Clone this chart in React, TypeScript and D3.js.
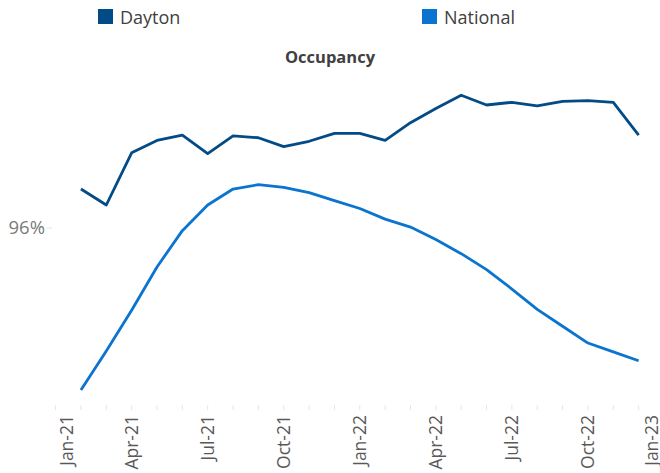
import React from "react";
import * as d3 from "d3";

const months: string[] = [
  "Feb-21","Mar-21","Apr-21","May-21","Jun-21","Jul-21","Aug-21","Sep-21","Oct-21","Nov-21","Dec-21",
  "Jan-22","Feb-22","Mar-22","Apr-22","May-22","Jun-22","Jul-22","Aug-22","Sep-22","Oct-22","Nov-22","Dec-22",
];
const dayton: number[] = [
  96.44, 96.26, 96.85, 96.99, 97.05, 96.84, 97.04, 97.02, 96.92, 96.98, 97.07,
  97.07, 96.99, 97.19, 97.35, 97.5, 97.39, 97.42, 97.38, 97.43, 97.44, 97.42, 97.05,
];
const national: number[] = [
  94.17, 94.61, 95.07, 95.56, 95.97, 96.26, 96.44, 96.49, 96.46, 96.4, 96.31,
  96.22, 96.1, 96.01, 95.87, 95.71, 95.53, 95.31, 95.08, 94.89, 94.7, 94.6, 94.5,
];
const tickLabels: string[] = ["Jan-21","Apr-21","Jul-21","Oct-21","Jan-22","Apr-22","Jul-22","Oct-22","Jan-23"];
const yTicks: number[] = [96];
const seriesNames: string[] = ["Dayton", "National"];
const colors: string[] = ["#034b87", "#0a74cf"];

const W = 660;
const H = 473;
const FONT = "'Open Sans', sans-serif";

export default function App() {
  // month index: 0 = Jan-21
  const x = d3.scaleLinear().domain([0, 24]).range([55.6, 664]);
  const y = d3.scaleLinear().domain([94, 98]).range([405, 51]);
  const line = d3
    .line<number>()
    .x((_, i) => x(i + 1))
    .y((d) => y(d));
  const series = [dayton, national];
  const monthTicks = d3.range(0, 24);

  return (
    <div style={{ position: "absolute", left: 0, top: 0 }}>
      <svg width={W} height={H} style={{ display: "block", background: "#fff" }}>
        {/* legend */}
        {seriesNames.map((name, i) => {
          const lx = [98, 422][i];
          return (
            <g key={name}>
              <rect x={lx} y={9} width={15} height={15} fill={colors[i]} />
              <text x={lx + 22} y={24} fontFamily={FONT} fontSize={18} fill="#404040">
                {name}
              </text>
            </g>
          );
        })}
        {/* title */}
        <text x={330} y={63} textAnchor="middle" fontFamily={FONT} fontSize={16.5} fontWeight={700} fill="#404040">
          Occupancy
        </text>
        {/* y axis */}
        {yTicks.map((t) => (
          <g key={t}>
            <line x1={47} x2={52} y1={y(t)} y2={y(t)} stroke="#e6e6e6" strokeWidth={1} />
            <text x={45} y={y(t)} dy="0.35em" textAnchor="end" fontFamily={FONT} fontSize={18.5} fill="#7a7a7a">
              {t}%
            </text>
          </g>
        ))}
        {/* x axis ticks */}
        {monthTicks.map((i) => (
          <line key={i} x1={x(i)} x2={x(i)} y1={405} y2={410} stroke="#e6e6e6" strokeWidth={1} />
        ))}
        {tickLabels.map((lab, k) => {
          const lx = Math.min(Math.max(x(k * 3), 67), 652);
          return (
            <text
              key={lab}
              transform={`translate(${lx},415) rotate(-90)`}
              dy="0.35em"
              textAnchor="end"
              fontFamily={FONT}
              fontSize={17.5}
              fill="#595959"
            >
              {lab}
            </text>
          );
        })}
        {/* lines */}
        {series.map((s, i) => (
          <path
            key={i}
            d={line(s) || ""}
            fill="none"
            stroke={colors[i]}
            strokeWidth={2.8}
            strokeLinejoin="round"
          />
        ))}
      </svg>
    </div>
  );
}
